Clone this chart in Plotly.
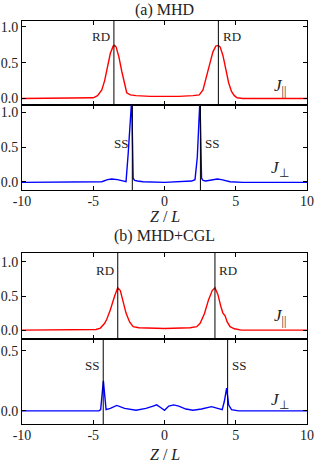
import plotly.graph_objects as go

# ---------------- data ----------------
# (a) MHD, J_parallel
xa_par = [-10, -7, -5.5, -5.0, -4.7, -4.4, -4.2, -4.0, -3.8, -3.6, -3.5, -3.4, -3.2, -3.0, -2.8, -2.65, -2.4, -2.0,
          -1.0, 0.0, 1.0, 2.0, 2.44, 2.7, 3.0, 3.2, 3.4, 3.6, 3.78, 3.9, 4.1, 4.3, 4.5, 4.7, 4.9, 5.1, 5.5, 7, 10]
ya_par = [0.0, 0.0, 0.0, 0.01, 0.04, 0.12, 0.25, 0.45, 0.63, 0.73, 0.74, 0.72, 0.58, 0.38, 0.18, 0.08, 0.05, 0.04,
          0.03, 0.025, 0.03, 0.04, 0.05, 0.12, 0.33, 0.5, 0.65, 0.73, 0.74, 0.72, 0.6, 0.4, 0.22, 0.1, 0.04, 0.01, 0.0, 0.0, 0.0]

# (a) MHD, J_perp
xa_perp = [-10, -6, -5, -4.4, -4.0, -3.7, -3.3, -3.0, -2.7, -2.55, -2.45, -2.3, -2.2, -2.1, -1.9, -1.5,
           0.0, 1.5, 1.9, 2.14, 2.3, 2.4, 2.49, 2.6, 2.7, 2.9, 3.3, 3.7, 4.0, 4.6, 5.5, 10]
ya_perp = [-0.01, -0.01, -0.01, 0.0, 0.03, 0.04, 0.03, 0.01, 0.0, 0.4, 0.8, 1.2, 0.05, 0.02, 0.01, 0.0,
           -0.01, 0.0, 0.01, 0.03, 0.35, 0.8, 1.2, 0.05, 0.02, 0.01, 0.03, 0.04, 0.03, 0.0, -0.01, -0.01]

# (b) MHD+CGL, J_parallel
xb_par = [-10, -7, -5.3, -4.8, -4.5, -4.2, -4.05, -3.8, -3.5, -3.28, -3.1, -2.9, -2.7, -2.45, -2.2, -1.8,
          0.0, 1.8, 2.26, 2.5, 2.8, 3.1, 3.35, 3.54, 3.75, 3.95, 4.1, 4.25, 4.4, 4.6, 4.9, 5.4, 7, 10]
yb_par = [0.0, 0.0, 0.0, 0.01, 0.03, 0.1, 0.16, 0.3, 0.5, 0.62, 0.58, 0.42, 0.25, 0.12, 0.05, 0.035,
          0.025, 0.035, 0.05, 0.1, 0.24, 0.45, 0.58, 0.62, 0.52, 0.35, 0.25, 0.21, 0.12, 0.05, 0.02, 0.0, 0.0, 0.0]

# (b) MHD+CGL, J_perp
xb_perp = [-10, -6, -4.6, -4.48, -4.29, -4.1, -3.8, -3.35, -2.8, -2.0, -1.3, -0.8, -0.55, -0.3, 0.0,
           0.3, 0.65, 1.0, 1.5, 2.0, 2.6, 3.3, 3.7, 4.05, 4.2, 4.36, 4.5, 4.7, 5.2, 10]
yb_perp = [0.0, 0.0, 0.0, 0.01, 0.25, 0.01, 0.02, 0.045, 0.02, 0.005, 0.02, 0.04, 0.05, 0.03, 0.005,
           0.04, 0.05, 0.04, 0.015, 0.005, 0.015, 0.035, 0.025, 0.01, 0.08, 0.19, 0.05, 0.01, 0.0, 0.0]

rd_a = [-3.55, 3.78]
ss_a = [-2.26, 2.52]
rd_b = [-3.28, 3.54]
ss_b = [-4.3, 4.43]

x_ticks = [-10, -5, 0, 5, 10]
x_ticklabels = ["-10", "-5", "0", "5", "10"]
y_ticks_std = [0.0, 0.5, 1.0]
y_ticklabels_std = ["0.0", "0.5", "1.0"]
y_ticks_last = [0.0, 0.5]
y_ticklabels_last = ["0.0", "0.5"]

# ---------------- figure ----------------
FONT = "Liberation Serif"
RED = "#ff0000"
BLUE = "#0000ff"
W, H = 314, 463
ML, MR, MT, MB = 22, 7, 21, 39
PH = H - MT - MB

fig = go.Figure()
panels = [
    (xa_par, ya_par, RED, [-0.09, 1.08], y_ticks_std, y_ticklabels_std),
    (xa_perp, ya_perp, BLUE, [-0.12, 1.11], y_ticks_std, y_ticklabels_std),
    (xb_par, yb_par, RED, [-0.13, 1.13], y_ticks_std, y_ticklabels_std),
    (xb_perp, yb_perp, BLUE, [-0.11, 0.6], y_ticks_last, y_ticklabels_last),
]
xnames = ["x", "x2", "x3", "x4"]
ynames = ["y", "y2", "y3", "y4"]
domains = [[0.7916, 1.0], [0.5806, 0.7916], [0.2109, 0.4243], [0.0, 0.2109]]
tickfont = dict(family=FONT, size=14, color="#222")

for i, (xs, ys, col, rng, yt, ytl) in enumerate(panels):
    fig.add_trace(go.Scatter(x=xs, y=ys, mode="lines", line=dict(color=col, width=1.4),
                             xaxis=xnames[i], yaxis=ynames[i], showlegend=False, hoverinfo="skip"))
    xkey = "xaxis" if i == 0 else f"xaxis{i+1}"
    ykey = "yaxis" if i == 0 else f"yaxis{i+1}"
    showx = i in (1, 3)
    fig.update_layout(**{
        xkey: dict(domain=[0, 1], range=[-10, 10], anchor=ynames[i], tickvals=x_ticks, ticktext=x_ticklabels,
                   showticklabels=showx, ticks="inside", ticklen=4, tickcolor="black",
                   showline=True, linecolor="black", linewidth=1, mirror="ticks",
                   showgrid=False, zeroline=False, automargin=False, tickfont=tickfont,
                   ticklabelstandoff=-2),
        ykey: dict(domain=domains[i], range=rng, anchor=xnames[i], tickvals=yt, ticktext=ytl,
                   ticks="inside", ticklen=4, tickcolor="black",
                   showline=True, linecolor="black", linewidth=1, mirror="ticks",
                   showgrid=False, zeroline=False, automargin=False, tickfont=tickfont),
    })

shapes = []
for i, vals in enumerate([rd_a, ss_a, rd_b, ss_b]):
    for v in vals:
        shapes.append(dict(type="line", xref=xnames[i], yref=ynames[i] + " domain", x0=v, x1=v, y0=0, y1=1,
                           line=dict(color="black", width=1)))

ann = []
def txt(x, y, t, xr, yr, size=13, xanchor="center"):
    ann.append(dict(x=x, y=y, xref=xr, yref=yr, text=t, showarrow=False,
                    font=dict(family=FONT, size=size, color="#222"), xanchor=xanchor, yanchor="middle"))

txt(rd_a[0] - 0.15, 0.86, "RD", "x", "y", xanchor="right")
txt(rd_a[1] + 0.15, 0.86, "RD", "x", "y", xanchor="left")
txt(ss_a[0] - 0.15, 0.56, "SS", "x2", "y2", xanchor="right")
txt(ss_a[1] + 0.15, 0.56, "SS", "x2", "y2", xanchor="left")
txt(rd_b[0] - 0.15, 0.88, "RD", "x3", "y3", xanchor="right")
txt(rd_b[1] + 0.15, 0.88, "RD", "x3", "y3", xanchor="left")
txt(ss_b[0] - 0.15, 0.375, "SS", "x4", "y4", xanchor="right")
txt(ss_b[1] + 0.15, 0.375, "SS", "x4", "y4", xanchor="left")

txt(8.1, 0.16, "<i>J</i><sub>||</sub>", "x", "y", size=17)
txt(8.1, 0.19, "<i>J</i><sub>⊥</sub>", "x2", "y2", size=17)
txt(8.1, 0.19, "<i>J</i><sub>||</sub>", "x3", "y3", size=17)
txt(8.1, 0.08, "<i>J</i><sub>⊥</sub>", "x4", "y4", size=17)

title_items = [("(a) MHD", 10, 16), ("<i>Z</i> / <i>L</i>", 216, 16),
               ("(b) MHD+CGL", 236, 16), ("<i>Z</i> / <i>L</i>", 454, 16)]
for t, ypx, s in title_items:
    ann.append(dict(x=(164.5 - ML) / (W - ML - MR), y=(H - MB - ypx) / PH, xref="paper", yref="paper", text=t,
                    showarrow=False, font=dict(family=FONT, size=s, color="#222"),
                    xanchor="center", yanchor="middle"))

fig.update_layout(shapes=shapes, annotations=ann,
                  width=W, height=H, margin=dict(l=ML, r=MR, t=MT, b=MB, autoexpand=False),
                  paper_bgcolor="white", plot_bgcolor="white",
                  font=dict(family=FONT, color="#222"))

fig.write_html("out.html", config={"displayModeBar": False},
               post_script="document.body.style.margin='0px';document.body.style.overflow='hidden';")
